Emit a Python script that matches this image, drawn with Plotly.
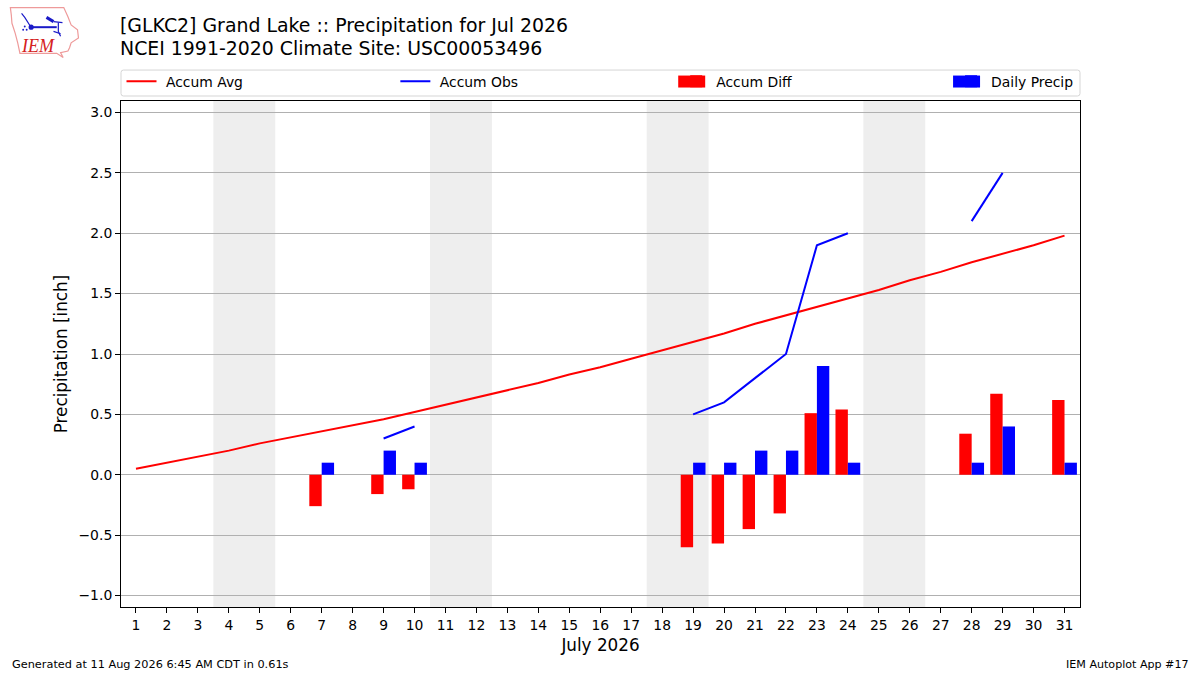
import plotly.graph_objects as go

days = list(range(1, 32))
accum_avg = [0.05, 0.10, 0.15, 0.20, 0.26, 0.31, 0.36, 0.41, 0.46, 0.52, 0.58,
             0.64, 0.70, 0.76, 0.83, 0.89, 0.96, 1.03, 1.10, 1.17, 1.25, 1.32,
             1.39, 1.46, 1.53, 1.61, 1.68, 1.76, 1.83, 1.90, 1.98]
accum_obs = [None, None, None, None, None, None, None, None, 0.3, 0.4, None,
             None, None, None, None, None, None, None, 0.5, 0.6, 0.8, 1.0,
             1.9, 2.0, None, None, None, 2.1, 2.5, None, None]
diff_days = [7, 9, 10, 19, 20, 21, 22, 23, 24, 28, 29, 31]
accum_diff = [-0.26, -0.16, -0.12, -0.60, -0.57, -0.45, -0.32, 0.51, 0.54, 0.34, 0.67, 0.62]
daily_precip = [0.1, 0.2, 0.1, 0.1, 0.1, 0.2, 0.2, 0.9, 0.1, 0.1, 0.4, 0.1]
weekends = [(3.5, 5.5), (10.5, 12.5), (17.5, 19.5), (24.5, 26.5)]
y_ticks = [-1.0, -0.5, 0.0, 0.5, 1.0, 1.5, 2.0, 2.5, 3.0]

W, H = 1200, 675
L, R, T, B = 120.5, 1080, 100.5, 607.5
FONT = "DejaVu Sans"


def px(x):
    return (x - L) / (R - L)


def py(y):
    return (B - y) / (B - T)


def path(points, close=False):
    s = "M" + " L".join(f"{px(a):.5f},{py(b):.5f}" for a, b in points)
    return s + (" Z" if close else "")


def logo(points):
    return [(5 + a * 0.32, 3 + b * 0.327) for a, b in points]


fig = go.Figure()
fig.add_trace(go.Bar(x=diff_days, y=accum_diff, name="Accum Diff", offset=-0.4, width=0.4,
                     marker=dict(color="#ff0000", line_width=0), legend="legend3"))
fig.add_trace(go.Bar(x=diff_days, y=daily_precip, name="Daily Precip", offset=0, width=0.4,
                     marker=dict(color="#0000ff", line_width=0), legend="legend4"))
fig.add_trace(go.Scatter(x=days, y=accum_avg, name="\u00a0Accum Avg", mode="lines",
                         line=dict(color="#ff0000", width=2), legend="legend"))
fig.add_trace(go.Scatter(x=days, y=accum_obs, name="\u00a0Accum Obs", mode="lines",
                         line=dict(color="#0000ff", width=2), legend="legend2"))

shapes = [dict(type="rect", xref="x", yref="paper", x0=a, x1=b, y0=0, y1=1,
               fillcolor="#eeeeee", line_width=0, layer="below") for a, b in weekends]
# rounded legend frame
x0, x1, y0, y1, r = 120.5, 1080, 69.5, 95.5, 2.5
frame = (f"M{px(x0 + r)},{py(y0)} L{px(x1 - r)},{py(y0)} Q{px(x1)},{py(y0)} {px(x1)},{py(y0 + r)} "
         f"L{px(x1)},{py(y1 - r)} Q{px(x1)},{py(y1)} {px(x1 - r)},{py(y1)} L{px(x0 + r)},{py(y1)} "
         f"Q{px(x0)},{py(y1)} {px(x0)},{py(y1 - r)} L{px(x0)},{py(y0 + r)} Q{px(x0)},{py(y0)} {px(x0 + r)},{py(y0)} Z")
shapes.append(dict(type="path", path=frame, xref="paper", yref="paper",
                   line=dict(color="#d5d5d5", width=1), fillcolor="white", layer="above"))
# wide legend patches
for xs, c in ((678, "#ff0000"), (953, "#0000ff")):
    shapes.append(dict(type="rect", xref="paper", yref="paper", x0=px(xs), x1=px(xs + 27),
                       y0=py(87), y1=py(75), fillcolor=c, line_width=0, layer="above"))
# logo
outline = logo([(15, 12), (182, 12), (195, 40), (205, 65), (225, 80), (228, 105), (205, 120),
                (200, 135), (195, 145), (172, 150), (180, 165), (160, 152), (45, 152),
                (38, 120), (30, 90), (20, 60), (18, 35)])
shapes.append(dict(type="path", path=path(outline, True), xref="paper", yref="paper",
                   line=dict(color="#ee9a9a", width=1.2), layer="above"))
blue = "#1a1ac8"
for pts, w in (([(80, 72), (160, 72)], 2), ([(50, 30), (60, 42), (78, 70)], 1.2),
               ([(128, 42), (150, 55)], 3), ([(150, 55), (178, 58)], 1.2),
               ([(165, 58), (165, 85), (172, 100)], 1.2), ([(150, 85), (172, 92)], 1.2)):
    shapes.append(dict(type="path", path=path(logo(pts)), xref="paper", yref="paper",
                       line=dict(color=blue, width=w), layer="above"))
for cx, cy, rad in ((80, 72, 8), (60, 70, 3), (55, 80, 3), (66, 80, 3)):
    (a, b), (c, d) = logo([(cx - rad, cy - rad), (cx + rad, cy + rad)])
    shapes.append(dict(type="circle", xref="paper", yref="paper", x0=px(a), x1=px(c),
                       y0=py(d), y1=py(b), fillcolor=blue, line_width=0, layer="above"))

annotations = [
    dict(text="[GLKC2] Grand Lake :: Precipitation for Jul 2026", x=px(118.5), y=py(24),
         xref="paper", yref="paper", xanchor="left", yanchor="middle", showarrow=False, borderpad=0,
         font=dict(family=FONT, size=18.9, color="black")),
    dict(text="NCEI 1991-2020 Climate Site: USC00053496", x=px(118.5), y=py(47),
         xref="paper", yref="paper", xanchor="left", yanchor="middle", showarrow=False, borderpad=0,
         font=dict(family=FONT, size=18.9, color="black")),
    dict(text="<i>IEM</i>", x=px(37), y=py(45), xref="paper", yref="paper", showarrow=False,
         font=dict(family="Liberation Serif", size=18, color="#d42020"),
         xanchor="center", yanchor="middle"),
    dict(text="Generated at 11 Aug 2026 6:45 AM CDT in 0.61s", x=px(10), y=py(665), xref="paper",
         yref="paper", xanchor="left", yanchor="middle", showarrow=False, borderpad=0,
         font=dict(family=FONT, size=11.3, color="black")),
    dict(text="IEM Autoplot App #17", x=px(1190), y=py(665), xref="paper", yref="paper",
         xanchor="right", yanchor="middle", showarrow=False, borderpad=0,
         font=dict(family=FONT, size=11.1, color="black")),
]


def leg(x):
    return dict(x=px(x), y=py(81.3), xanchor="left", yanchor="middle", bgcolor="rgba(0,0,0,0)",
                borderwidth=0, font=dict(family=FONT, size=13.9, color="black"),
                itemclick=False, itemdoubleclick=False, itemwidth=30)


fig.update_layout(
    width=W, height=H, paper_bgcolor="white", plot_bgcolor="white",
    margin=dict(l=L, r=W - R, t=T, b=H - B, pad=0),
    barmode="overlay", showlegend=True, font=dict(family=FONT, size=13.9, color="black"),
    shapes=shapes, annotations=annotations,
    legend=leg(121), legend2=leg(395), legend3=leg(676), legend4=leg(951),
    xaxis=dict(range=[0.516, 31.5], tickmode="array", tickvals=days, ticktext=[str(d) for d in days],
               showgrid=False, zeroline=False, showline=True, mirror=True, linecolor="black", linewidth=1,
               ticks="outside", ticklen=5, tickwidth=1, tickcolor="black",
               title=dict(text="July 2026", font=dict(family=FONT, size=16.8), standoff=7)),
    yaxis=dict(range=[-1.095, 3.095], tickmode="array", tickvals=y_ticks,
               ticktext=[f"{v:.1f}".replace("-", "\u2212") for v in y_ticks],
               showgrid=True, gridcolor="#b0b0b0", gridwidth=1,
               zeroline=True, zerolinecolor="#b0b0b0", zerolinewidth=1,
               showline=True, mirror=True, linecolor="black", linewidth=1,
               ticks="outside", ticklen=5, tickwidth=1, tickcolor="black",
               title=dict(text="Precipitation [inch]", font=dict(family=FONT, size=16.8), standoff=6)),
)
fig.write_html("out.html", config=dict(displayModeBar=False),
               post_script="document.body.style.margin='0';")
